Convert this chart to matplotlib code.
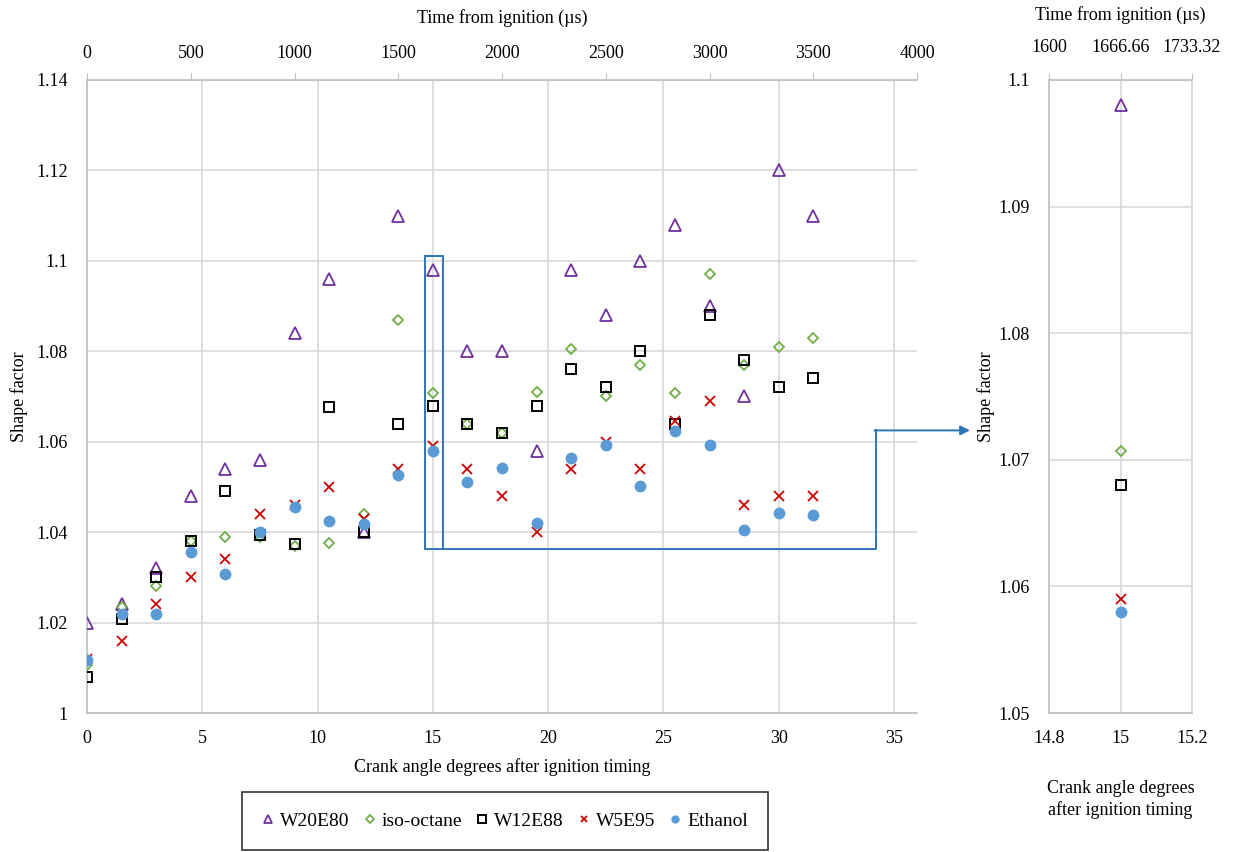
import matplotlib
matplotlib.use("Agg")
import matplotlib.pyplot as plt
from matplotlib.patches import Rectangle

plt.rcParams['font.family'] = ['Liberation Serif', 'DejaVu Serif']

# ---------------- data ----------------
crank_angle = [0, 1.5, 3, 4.5, 6, 7.5, 9, 10.5, 12, 13.5, 15, 16.5, 18, 19.5,
               21, 22.5, 24, 25.5, 27, 28.5, 30, 31.5]

w20e80 = [1.020, 1.024, 1.032, 1.048, 1.054, 1.056, 1.084, 1.096, 1.040, 1.110, 1.098,
          1.080, 1.080, 1.058, 1.098, 1.088, 1.100, 1.108, 1.090, 1.070, 1.120, 1.110]
iso_octane = [1.0106, 1.0235, 1.028, 1.038, 1.039, 1.039, 1.037, 1.0376, 1.044, 1.087, 1.0707,
              1.064, 1.062, 1.071, 1.0804, 1.070, 1.077, 1.0707, 1.097, 1.077, 1.081, 1.083]
w12e88 = [1.008, 1.0207, 1.030, 1.038, 1.049, 1.0394, 1.0373, 1.0677, 1.040, 1.064, 1.068,
          1.064, 1.062, 1.068, 1.076, 1.072, 1.080, 1.064, 1.088, 1.078, 1.072, 1.074]
w5e95 = [1.012, 1.016, 1.024, 1.030, 1.034, 1.044, 1.046, 1.050, 1.043, 1.054, 1.059,
         1.054, 1.048, 1.040, 1.054, 1.060, 1.054, 1.0645, 1.069, 1.046, 1.048, 1.048]
ethanol = [1.0117, 1.022, 1.022, 1.0356, 1.0308, 1.040, 1.0456, 1.0424, 1.0418, 1.0527, 1.058,
           1.0511, 1.0542, 1.042, 1.0564, 1.0593, 1.0503, 1.0623, 1.0592, 1.0404, 1.0443, 1.0437]

series_names = ['W20E80', 'iso-octane', 'W12E88', 'W5E95', 'Ethanol']
series_values = [w20e80, iso_octane, w12e88, w5e95, ethanol]

main_xticks = [0, 5, 10, 15, 20, 25, 30, 35]
main_yticks = [1, 1.02, 1.04, 1.06, 1.08, 1.1, 1.12, 1.14]
main_ytick_labels = ['1', '1.02', '1.04', '1.06', '1.08', '1.1', '1.12', '1.14']
time_ticks = [0, 500, 1000, 1500, 2000, 2500, 3000, 3500, 4000]

inset_angle = 15
inset_xticks = [14.8, 15, 15.2]
inset_time_ticks = [1600, 1666.66, 1733.32]
inset_yticks = [1.05, 1.06, 1.07, 1.08, 1.09, 1.1]
inset_ytick_labels = ['1.05', '1.06', '1.07', '1.08', '1.09', '1.1']

# ---------------- styles ----------------
styles = [
    dict(marker='^', mfc='none', mec='#7030A0', ms=8, mew=1.3),
    dict(marker='D', mfc='none', mec='#70AD47', ms=5.5, mew=1.3),
    dict(marker='s', mfc='none', mec='#000000', ms=7.5, mew=1.4),
    dict(marker='x', mfc='none', mec='#D00000', ms=7, mew=1.3),
    dict(marker='o', mfc='#5B9BD5', mec='#5B9BD5', ms=8.5, mew=0),
]

GRID = '#D9D9D9'
SPINE = '#BFBFBF'
FS = 13

fig = plt.figure(figsize=(12.38, 8.52), dpi=100)

# ---------------- main axes ----------------
ax = fig.add_axes([87 / 1238, 1 - 713 / 852, (917 - 87) / 1238, (713 - 80) / 852])
handles = []
for name, vals, st in zip(series_names, series_values, styles):
    h, = ax.plot(crank_angle, vals, linestyle='none', label=name, zorder=3, **st)
    handles.append(h)

ax.set_xlim(0, 36)
ax.set_ylim(1, 1.14)
ax.set_xticks(main_xticks)
ax.set_yticks(main_yticks)
ax.set_yticklabels(main_ytick_labels)
ax.grid(True, color=GRID, linewidth=1.2)
ax.set_axisbelow(True)
ax.tick_params(axis='x', length=0, labelsize=FS, pad=12)
ax.tick_params(axis='y', length=0, labelsize=FS, pad=14)
for s in ['top', 'right']:
    ax.spines[s].set_visible(False)
for s in ['left', 'bottom']:
    ax.spines[s].set_color(SPINE)
    ax.spines[s].set_linewidth(1.2)
ax.set_xlabel('Crank angle degrees after ignition timing', fontsize=FS, labelpad=8)
ax.set_ylabel('Shape factor', fontsize=FS, labelpad=6)

axt = ax.twiny()
axt.set_xlim(0, 4000)
axt.set_xticks(time_ticks)
axt.tick_params(axis='x', direction='out', length=5, color=SPINE, labelsize=FS, pad=8)
axt.spines['top'].set_color(SPINE)
axt.spines['top'].set_linewidth(1.2)
for s in ['left', 'right', 'bottom']:
    axt.spines[s].set_visible(False)
axt.set_xlabel('Time from ignition (µs)', fontsize=FS, labelpad=16)

# highlight box and connector arrow
blue = '#2E75B6'
ax.add_patch(Rectangle((14.65, 1.0362), 0.8, 1.1011 - 1.0362, fill=False,
                       edgecolor=blue, linewidth=1.4, zorder=4))
ax.plot([15.45, 34.2, 34.2], [1.0362, 1.0362, 1.0625], color=blue, lw=1.4,
        clip_on=False, zorder=4)
ax.annotate('', xy=(38.3, 1.0625), xytext=(34.15, 1.0625), annotation_clip=False,
            arrowprops=dict(arrowstyle='-|>', color=blue, lw=1.4, mutation_scale=14,
                            shrinkA=0, shrinkB=0))

# ---------------- inset axes ----------------
ai = fig.add_axes([1049 / 1238, 1 - 713 / 852, (1192 - 1049) / 1238, (713 - 80) / 852])
idx = crank_angle.index(inset_angle)
for vals, st in zip(series_values, styles):
    ai.plot([crank_angle[idx]], [vals[idx]], linestyle='none', zorder=3, **st)
ai.set_xlim(14.8, 15.2)
ai.set_ylim(1.05, 1.1)
ai.set_xticks(inset_xticks)
ai.set_xticklabels(['14.8', '15', '15.2'])
ai.set_yticks(inset_yticks)
ai.set_yticklabels(inset_ytick_labels)
ai.grid(True, color=GRID, linewidth=1.2)
ai.set_axisbelow(True)
ai.tick_params(axis='x', length=0, labelsize=FS, pad=12)
ai.tick_params(axis='y', length=0, labelsize=FS, pad=14)
ai.spines['top'].set_visible(False)
ai.spines['right'].set_color(GRID)
ai.spines['right'].set_linewidth(1.2)
for s in ['left', 'bottom']:
    ai.spines[s].set_color(SPINE)
    ai.spines[s].set_linewidth(1.2)
ai.set_xlabel('Crank angle degrees\nafter ignition timing', fontsize=FS, labelpad=24,
              linespacing=1.3)
ai.set_ylabel('Shape factor', fontsize=FS, labelpad=2)

ait = ai.twiny()
ait.set_xlim(1600, 1733.32)
ait.set_xticks(inset_time_ticks)
ait.set_xticklabels(['1600', '1666.66', '1733.32'])
ait.tick_params(axis='x', direction='out', length=5, color=SPINE, labelsize=FS, pad=12)
ait.spines['top'].set_color(SPINE)
ait.spines['top'].set_linewidth(1.2)
for s in ['left', 'right', 'bottom']:
    ait.spines[s].set_visible(False)
ait.set_xlabel('Time from ignition (µs)', fontsize=FS, labelpad=14)

# ---------------- legend ----------------
leg = fig.legend(handles=handles, loc='center', bbox_to_anchor=(505 / 1238, 1 - 821 / 852),
                 ncol=5, fontsize=FS + 1, frameon=True, fancybox=False, markerscale=0.7,
                 handlelength=0.6, handletextpad=0.3, columnspacing=0.75, borderpad=1.05,
                 borderaxespad=0)
leg.get_frame().set_edgecolor('black')
leg.get_frame().set_linewidth(1.2)

fig.savefig('out.png', dpi=100)
